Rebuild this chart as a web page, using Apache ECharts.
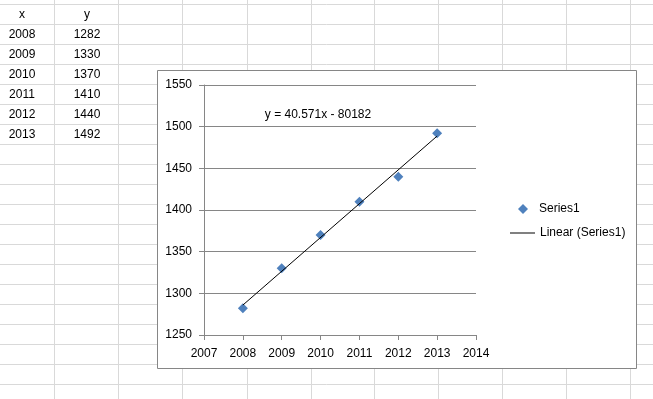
<!DOCTYPE html>
<html>
<head>
<meta charset="utf-8">
<style>
  html, body { margin: 0; padding: 0; background: #ffffff; }
  #chart { width: 653px; height: 399px; }
</style>
<script src="https://cdn.jsdelivr.net/npm/echarts@6/dist/echarts.min.js"></script>
</head>
<body>
<div id="chart"></div>
<script>
// ---- data ----
const headers = ['x', 'y'];
const years = [2008, 2009, 2010, 2011, 2012, 2013];
const values = [1282, 1330, 1370, 1410, 1440, 1492];
const xTicks = [2007, 2014, 1];      // min, max, interval
const yTicks = [1250, 1550, 50];     // min, max, interval
const seriesName = 'Series1';
const trendName = 'Linear (Series1)';

// ---- linear regression for trendline ----
const n = years.length;
const mx = years.reduce((a, b) => a + b, 0) / n;
const my = values.reduce((a, b) => a + b, 0) / n;
let sxy = 0, sxx = 0;
for (let i = 0; i < n; i++) { sxy += (years[i] - mx) * (values[i] - my); sxx += (years[i] - mx) ** 2; }
const slope = sxy / sxx;
const intercept = my - slope * mx;
const xFirst = years[0], xLast = years[n - 1];
const trendData = [[xFirst, slope * xFirst + intercept], [xLast, slope * xLast + intercept]];
const eqText = 'y = ' + slope.toFixed(3) + 'x ' + (intercept < 0 ? '- ' : '+ ') + Math.abs(Math.round(intercept));

// ---- spreadsheet background (decoration) ----
const W = 653, H = 399;
const colLines = [54, 118, 182, 247, 311, 374, 438, 502, 566, 630];
const rowH = 20, rowTop0 = 4;
const gridCol = '#d9d9d9';
const FONT = '"Liberation Sans", Arial, sans-serif';
const graphics = [];
colLines.forEach(x => {
  graphics.push({ type: 'line', z: -10, silent: true,
    shape: { x1: x + 0.5, y1: 0, x2: x + 0.5, y2: H }, style: { stroke: gridCol, lineWidth: 1 } });
});
for (let y = rowTop0; y < H; y += rowH) {
  graphics.push({ type: 'line', z: -10, silent: true,
    shape: { x1: 0, y1: y + 0.5, x2: W, y2: y + 0.5 }, style: { stroke: gridCol, lineWidth: 1 } });
}
// table cells
const colCenters = [22, 87];
function cellText(col, row, txt) {
  graphics.push({ type: 'text', z: -5, silent: true, x: colCenters[col], y: rowTop0 + row * rowH + 11,
    style: { text: String(txt), fill: '#000', font: '12px ' + FONT, align: 'center', verticalAlign: 'middle' } });
}
headers.forEach((h, c) => cellText(c, 0, h));
years.forEach((yv, i) => { cellText(0, i + 1, yv); cellText(1, i + 1, values[i]); });
// chart area box
graphics.push({ type: 'rect', z: -2, silent: true, shape: { x: 157.5, y: 70.5, width: 479, height: 298 },
  style: { fill: '#ffffff', stroke: '#868686', lineWidth: 1 } });
// trendline equation label
graphics.push({ type: 'text', z: 5, silent: true, x: 318, y: 115,
  style: { text: eqText, fill: '#000', font: '12px ' + FONT, align: 'center', verticalAlign: 'middle' } });

const axisGray = '#868686';
const option = {
  animation: false,
  backgroundColor: '#ffffff',
  textStyle: { fontFamily: FONT },
  graphic: graphics,
  grid: { left: 204, right: 177, top: 85, bottom: 64, containLabel: false },
  xAxis: {
    type: 'value', min: xTicks[0], max: xTicks[1], interval: xTicks[2],
    axisLine: { show: true, onZero: false, lineStyle: { color: axisGray } },
    axisTick: { show: true, inside: false, length: 5, lineStyle: { color: axisGray } },
    axisLabel: { color: '#000', fontSize: 12, margin: 13, formatter: v => String(v) },
    splitLine: { show: false }
  },
  yAxis: {
    type: 'value', min: yTicks[0], max: yTicks[1], interval: yTicks[2],
    axisLine: { show: true, onZero: false, lineStyle: { color: axisGray } },
    axisTick: { show: true, inside: false, length: 5, lineStyle: { color: axisGray } },
    axisLabel: { color: '#000', fontSize: 12, margin: 12, formatter: v => String(v) },
    splitLine: { show: true, lineStyle: { color: axisGray, width: 1 } }
  },
  legend: [
    {
      orient: 'vertical', left: 518, top: 203, padding: 0, itemWidth: 10, itemHeight: 10,
      textStyle: { color: '#000', fontSize: 12, padding: [0, 0, 0, 6] },
      data: [{ name: seriesName, icon: 'diamond' }]
    },
    {
      orient: 'vertical', left: 510, top: 227, padding: 0, itemWidth: 25, itemHeight: 1,
      textStyle: { color: '#000', fontSize: 12 },
      data: [{ name: trendName, icon: 'rect' }]
    }
  ],
  series: [
    {
      name: seriesName, type: 'scatter', symbol: 'diamond', symbolSize: 10,
      itemStyle: { color: '#4F81BD', opacity: 1 }, z: 3,
      data: years.map((yv, i) => [yv, values[i]])
    },
    {
      name: trendName, type: 'line', symbol: 'none', z: 4,
      lineStyle: { color: '#000', width: 1 }, itemStyle: { color: '#000' },
      data: trendData
    }
  ]
};
const chart = echarts.init(document.getElementById('chart'), null, { renderer: 'canvas' });
chart.setOption(option);
</script>
</body>
</html>
